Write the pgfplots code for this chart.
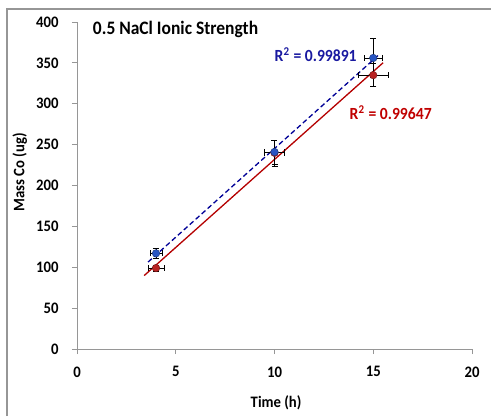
\documentclass[border=0pt]{standalone}
\usepackage{pgfplots}
\pgfplotsset{compat=1.18}
\usepackage{fontspec}
\setmainfont{Carlito}[FakeStretch=0.92]
\newcommand{\tickfont}{\fontsize{16}{18}\selectfont\bfseries}
\definecolor{bluepts}{RGB}{40,85,195}
\definecolor{redpts}{RGB}{185,35,35}
\definecolor{blueline}{RGB}{0,0,150}
\definecolor{redline}{RGB}{180,0,0}
\definecolor{bluetxt}{RGB}{25,25,160}
\definecolor{redtxt}{RGB}{192,0,0}
\definecolor{axgray}{RGB}{150,150,150}
\begin{document}
\begin{tikzpicture}[x=1pt,y=1pt]
\useasboundingbox (0,0) rectangle (491,416);
\draw[axgray, line width=1.2pt] (7,0) -- (7,407) -- (491,407);
\begin{axis}[
  at={(77pt,67pt)}, anchor=south west,
  scale only axis, width=395pt, height=327pt,
  xmin=0, xmax=20, ymin=0, ymax=400,
  axis lines*=left,
  axis line style={axgray, line width=0.9pt},
  tick style={axgray, line width=0.9pt},
  tick align=outside, major tick length=5pt,
  xtick={0,5,...,20}, ytick={0,50,...,400},
  xticklabels={0,5,10,15,20},
  yticklabels={0,50,100,150,200,250,300,350,400},
  xticklabel style={font=\tickfont, text=black, yshift=-9pt},
  yticklabel style={font=\tickfont, text=black, xshift=-10pt},
  xlabel={Time (h)},
  ylabel={Mass Co (ug)},
  label style={font=\bfseries\fontsize{16}{18}\selectfont},
  xlabel style={at={(axis description cs:0.504,-0.164)}, anchor=center},
  ylabel style={at={(axis description cs:-0.145,0.54)}, anchor=center, rotate=0},
  clip=false,
]
% trend lines
\addplot[blueline, dashed, line width=1.3pt, dash pattern=on 5pt off 3pt] coordinates {(3.6,106.4) (15.3,360.2)};
\addplot[redline, line width=1.3pt] coordinates {(3.4,89.8) (15.5,350.2)};
% data with error bars
\addplot[only marks, mark=*, mark size=3.8pt, mark options={fill=redpts, draw=redpts!60!black},
  error bars/.cd, x dir=both, x explicit, y dir=both, y explicit,
  error bar style={black, line width=0.7pt}, error mark options={black, mark size=3pt, rotate=90}]
  coordinates {(4,99) +- (0.4,4) (10,240) +- (0.5,16) (15,335) +- (0.75,14)};
\addplot[only marks, mark=*, mark size=3.8pt, mark options={fill=bluepts, draw=bluepts!60!black},
  error bars/.cd, x dir=both, x explicit, y dir=both, y explicit,
  error bar style={black, line width=0.7pt}, error mark options={black, mark size=3pt, rotate=90}]
  coordinates {(4,117) +- (0.3,6) (10,241) +- (0.5,15) (15,356) +- (0.45,24)};
\node[anchor=west, font=\bfseries\fontsize{19}{21}\selectfont, inner sep=0] at (axis cs:0.8,391) {0.5 NaCl Ionic Strength};
\node[anchor=west, font=\bfseries\fontsize{17}{19}\selectfont, text=bluetxt, inner sep=0] at (axis cs:10.0,360) {R$^{\mathbf{2}}$ = 0.99891};
\node[anchor=west, font=\bfseries\fontsize{17}{19}\selectfont, text=redtxt, inner sep=0] at (axis cs:13.8,289) {R$^{\mathbf{2}}$ = 0.99647};
\end{axis}
\end{tikzpicture}
\end{document}
